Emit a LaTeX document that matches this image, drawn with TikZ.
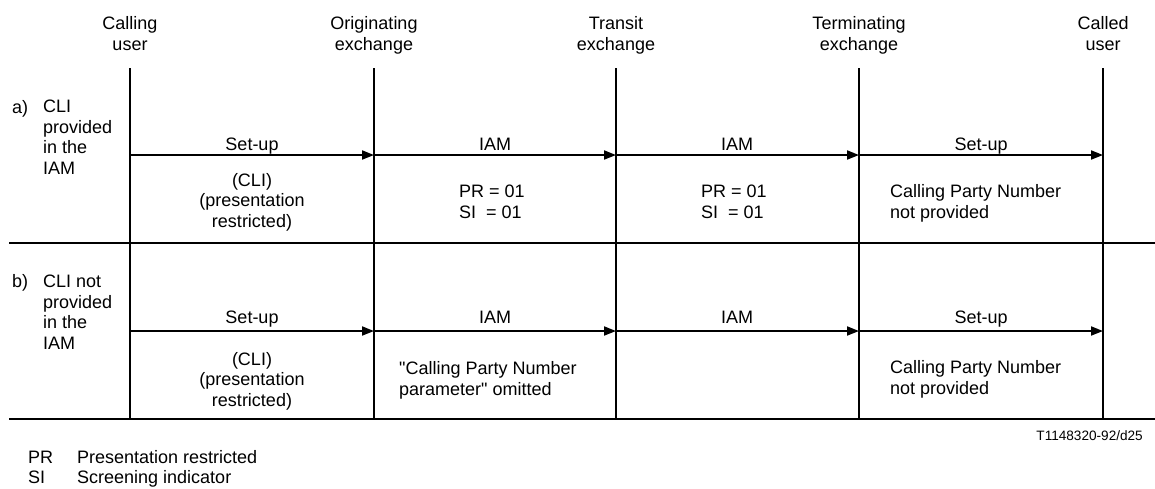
\documentclass[tikz,border=0pt]{standalone}
\usepackage{fontspec}
\setmainfont{Liberation Sans}
\usetikzlibrary{arrows.meta}
\begin{document}
\begin{tikzpicture}[x=1pt,y=-1pt,
  txt/.style={font=\fontsize{18}{20.5}\selectfont, inner sep=0pt, align=center, anchor=base},
  txtl/.style={txt, align=left, anchor=base west},
  small/.style={font=\fontsize{13.6}{16}\selectfont, inner sep=0pt, anchor=base east},
  rule/.style={line width=1.8pt},
  msg/.style={line width=1.8pt, -{Triangle[length=12pt,width=9pt]}},
]
\useasboundingbox (0,0) rectangle (1155,488);

% lifeline coordinates
\foreach \n/\x in {cu/130, oe/374, tr/616, tm/859, cd/1103} {
  \coordinate (\n-top) at (\x,68);
  \coordinate (\n-a) at (\x,155);
  \coordinate (\n-b) at (\x,331);
  \coordinate (\n-bot) at (\x,419);
}
\coordinate (ml) at (9,243);   \coordinate (mr) at (1155,243);
\coordinate (bl) at (9,419);   \coordinate (br) at (1155,419);

% headers (base = last line)
\node[txt] (hcu) at (130,50) {Calling\\user};
\node[txt] (hoe) at (374,50) {Originating\\exchange};
\node[txt] (htr) at (616,50) {Transit\\exchange};
\node[txt] (htm) at (859,50) {Terminating\\exchange};
\node[txt] (hcd) at (1103,50) {Called\\user};

% lifelines
\foreach \n in {cu,oe,tr,tm,cd} { \draw[rule] (\n-top) -- (\n-bot); }

% separators
\draw[rule] (ml) -- (mr);
\draw[rule] (bl) -- (br);

% row a
\node[txtl] (la1) at (12,113) {a)};
\node[txtl] (la2) at (43,174) {CLI\\provided\\in the\\IAM};
\draw[msg] (cu-a) -- (oe-a);
\draw[msg] (oe-a) -- (tr-a);
\draw[msg] (tr-a) -- (tm-a);
\draw[msg] (tm-a) -- (cd-a);
\node[txt] (a1) at (252,150) {Set-up};
\node[txt] (a2) at (495,150) {IAM};
\node[txt] (a3) at (737,150) {IAM};
\node[txt] (a4) at (981,150) {Set-up};
\node[txt] (a5) at (252,227) {(CLI)\\(presentation\\restricted)};
\node[txtl] (a6) at (459,218) {PR = 01\\SI \ = 01};
\node[txtl] (a7) at (701,218) {PR = 01\\SI \ = 01};
\node[txtl] (a8) at (890,218) {Calling Party Number\\not provided};

% row b
\node[txtl] (lb1) at (12,287) {b)};
\node[txtl] (lb2) at (43,349) {CLI not\\provided\\in the\\IAM};
\draw[msg] (cu-b) -- (oe-b);
\draw[msg] (oe-b) -- (tr-b);
\draw[msg] (tr-b) -- (tm-b);
\draw[msg] (tm-b) -- (cd-b);
\node[txt] (b1) at (252,323) {Set-up};
\node[txt] (b2) at (495,323) {IAM};
\node[txt] (b3) at (737,323) {IAM};
\node[txt] (b4) at (981,323) {Set-up};
\node[txt] (b5) at (252,406) {(CLI)\\(presentation\\restricted)};
\node[txtl] (b6) at (399,395) {\textquotedbl Calling Party Number\\parameter\textquotedbl\ omitted};
\node[txtl] (b8) at (890,394) {Calling Party Number\\not provided};

% footnote
\node[small] (ref) at (1143,440) {T1148320-92/d25};
\node[txtl] (k1) at (28,463) {PR};
\node[txtl] (k2) at (77,463) {Presentation restricted};
\node[txtl] (k3) at (28,483) {SI};
\node[txtl] (k4) at (77,483) {Screening indicator};
\end{tikzpicture}
\end{document}
